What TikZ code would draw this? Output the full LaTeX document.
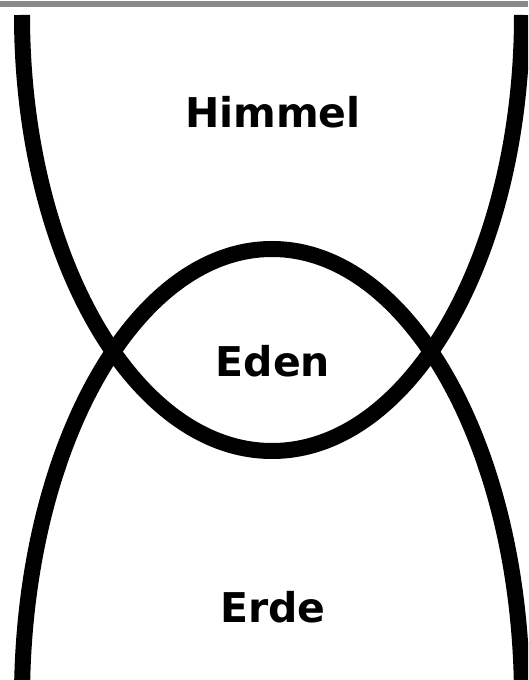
\documentclass[tikz,border=0pt]{standalone}
\usepackage{fontspec}
\setmainfont{DejaVu Sans}
\usepackage{tikz}
\usetikzlibrary{positioning}
\definecolor{rulegray}{RGB}{137,137,137}

\begin{document}
\begin{tikzpicture}[
  x=1pt, y=1pt,
  realm/.style={line width=16pt, black},
  word/.style={anchor=base, inner sep=0pt, font=\fontsize{41}{49}\selectfont\bfseries}
]
\useasboundingbox (0,0) rectangle (528,680);
\fill[white] (0,0) rectangle (528,680);
\fill[rulegray] (0,673) rectangle (528,679);
\begin{scope}
\clip (0,0) rectangle (528,672);
% upper bowl (Himmel) and lower dome (Erde)
\draw[realm] (22,665) arc[start angle=180, end angle=360, x radius=250, y radius=436];
\draw[realm] (522,-19) arc[start angle=0, end angle=180, x radius=250, y radius=450];
\end{scope}
\node[word] (himmel) at (273,552) {Himmel};
\node[word] (eden) at (273,303) {Eden};
\node[word] (erde) at (273,57) {Erde};
\end{tikzpicture}
\end{document}
